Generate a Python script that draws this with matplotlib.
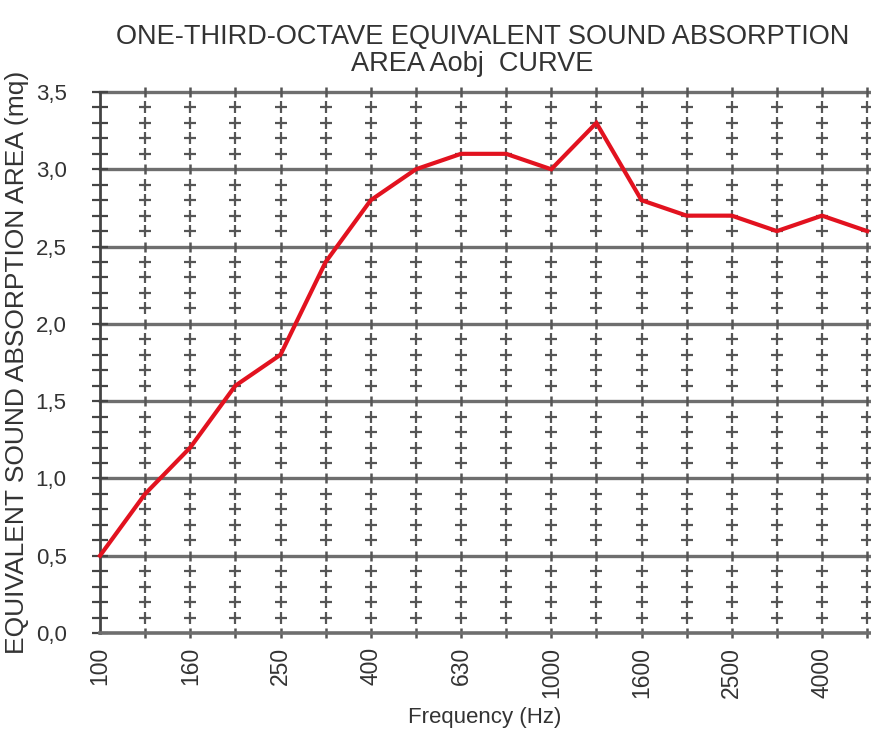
import matplotlib
matplotlib.use("Agg")
import matplotlib.pyplot as plt
import numpy as np

plt.rcParams['font.family'] = ['Liberation Sans', 'DejaVu Sans']

freqs = ["100", "125", "160", "200", "250", "315", "400", "500", "630", "800",
         "1000", "1250", "1600", "2000", "2500", "3150", "4000", "5000"]
aobj = [0.5, 0.9, 1.2, 1.6, 1.8, 2.4, 2.8, 3.0, 3.1, 3.1,
        3.0, 3.3, 2.8, 2.7, 2.7, 2.6, 2.7, 2.6]
ytick_labels = ["0,0", "0,5", "1,0", "1,5", "2,0", "2,5", "3,0", "3,5"]
yticks = [0.0, 0.5, 1.0, 1.5, 2.0, 2.5, 3.0, 3.5]

W, H = 871, 729
fig = plt.figure(figsize=(W / 100, H / 100), dpi=100)
left_px, right_px, top_px, bot_px = 100, 871, 92, 633
ax = fig.add_axes([left_px / W, 1 - bot_px / H, (right_px - left_px) / W, (bot_px - top_px) / H])

x = np.arange(len(freqs))
step = (822 - 100) / 16.0
ax.set_xlim(0, (right_px - left_px) / step)
ax.set_ylim(0, 3.5)

grid_c = '#6e6e6e'
for yv in yticks[1:]:
    ax.axhline(yv, color=grid_c, lw=2.4, zorder=1, clip_on=False)

minor_y = [v / 10 for v in range(1, 35) if v % 5 != 0]
for xi in x[1:]:
    ax.plot([xi] * len(minor_y), minor_y, ls='none', marker='+', ms=9, mew=1.6,
            color='#555555', zorder=2, clip_on=False)
    ax.plot([xi] * len(yticks), yticks, ls='none', marker='|', ms=7, mew=1.8,
            color='#555555', zorder=2, clip_on=False)

ax.plot(x, aobj, color='#e2121f', lw=3.0, zorder=4, solid_joinstyle='miter', clip_on=False)

for s in ['top', 'right']:
    ax.spines[s].set_visible(False)
ax.spines['left'].set_color('#444444')
ax.spines['left'].set_linewidth(2.0)
ax.spines['bottom'].set_color(grid_c)
ax.spines['bottom'].set_linewidth(2.6)

ax.set_yticks(yticks)
ax.set_yticklabels(ytick_labels, fontsize=16, color='#333333')
ax.set_yticks([v / 10 for v in range(0, 36)], minor=True)
ax.tick_params(axis='y', which='both', direction='inout', length=12, width=1.6, color='#444444', pad=18)

ax.set_xticks(x[::2])
ax.set_xticklabels(freqs[::2], rotation=90, fontsize=16.5, color='#333333')
ax.tick_params(axis='x', length=0, pad=10)

ax.set_ylabel("EQUIVALENT SOUND ABSORPTION AREA (mq)", fontsize=19, color='#333333')
ax.yaxis.set_label_coords(-(left_px - 17) / (right_px - left_px), 0.5)
ax.yaxis.label.set_va('center')
ax.set_xlabel("Frequency (Hz)", fontsize=16, color='#333333')
ax.xaxis.set_label_coords((485 - left_px) / (right_px - left_px), -(723 - bot_px) / (bot_px - top_px))
ax.xaxis.label.set_va('baseline')

fig.text(483 / W, 1 - 37 / H, "ONE-THIRD-OCTAVE EQUIVALENT SOUND ABSORPTION", ha='center', va='center',
         fontsize=19.5, color='#333333')
fig.text(472 / W, 1 - 64 / H, "AREA Aobj  CURVE", ha='center', va='center',
         fontsize=19.5, color='#333333')

fig.savefig("out.png", dpi=100, facecolor='white')
